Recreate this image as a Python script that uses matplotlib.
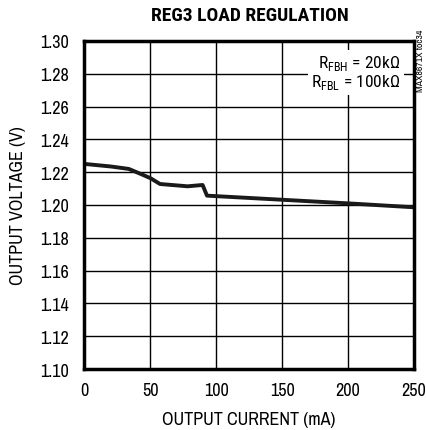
import matplotlib
matplotlib.use("Agg")
import matplotlib.pyplot as plt

# data
current_ma = [0.8, 20, 33.8, 42.7, 50.4, 57.5, 78.4, 89.8, 93.1, 150, 200, 250]
vout_v = [1.225, 1.2235, 1.222, 1.219, 1.2163, 1.2128, 1.2114, 1.2122, 1.2057, 1.2032, 1.201, 1.1986]

x_ticks = [0, 50, 100, 150, 200, 250]
y_ticks = [1.10, 1.12, 1.14, 1.16, 1.18, 1.20, 1.22, 1.24, 1.26, 1.28, 1.30]

plt.rcParams['font.family'] = ['Archivo Narrow', 'DejaVu Sans']
# mathtext only used for the resistor note; Roboto Condensed has the omega glyph
plt.rcParams['mathtext.fontset'] = 'custom'
plt.rcParams['mathtext.rm'] = 'Roboto Condensed'
plt.rcParams['mathtext.fallback'] = 'stixsans'

fig = plt.figure(figsize=(4.27, 4.31), dpi=100)
ax = fig.add_axes([0.197, 0.1415, 0.7726, 0.7611])

ax.plot(current_ma, vout_v, color='#1a1a1a', linewidth=2.8, solid_joinstyle='round')

ax.set_xlim(0, 250)
ax.set_ylim(1.10, 1.30)
ax.set_xticks(x_ticks)
ax.set_yticks(y_ticks)
ax.set_yticklabels([f"{v:.2f}" for v in y_ticks])
ax.tick_params(length=0, labelsize=13, pad=11)
ax.tick_params(axis='x', pad=9)
ax.grid(True, color='black', linewidth=1.0)
for s in ax.spines.values():
    s.set_linewidth(2.5)

ax.set_xlabel('OUTPUT CURRENT (mA)', fontsize=13, labelpad=10)
ax.set_ylabel('OUTPUT VOLTAGE (V)', fontsize=13, labelpad=10)
fig.text(0.585, 0.962, 'REG3 LOAD REGULATION', ha='center', va='center',
         fontsize=14, fontweight='bold', family=['Roboto Condensed', 'DejaVu Sans'])

ax.text(0.958, 0.962, 'R$_{\\mathregular{FBH}}$ = 20k$\\mathregular{\u03a9}$\n'
        'R$_{\\mathregular{FBL}}$ = 100k$\\mathregular{\u03a9}$',
        transform=ax.transAxes, ha='right', va='top', fontsize=12.5,
        linespacing=1.0, family=['Roboto Condensed', 'DejaVu Sans'],
        bbox=dict(facecolor='white', edgecolor='none', pad=2.5))
fig.text(0.985, 0.86, 'MAX8671X toc34', rotation=90, ha='center', va='center',
         fontsize=7)

fig.savefig('out.png', dpi=100)
